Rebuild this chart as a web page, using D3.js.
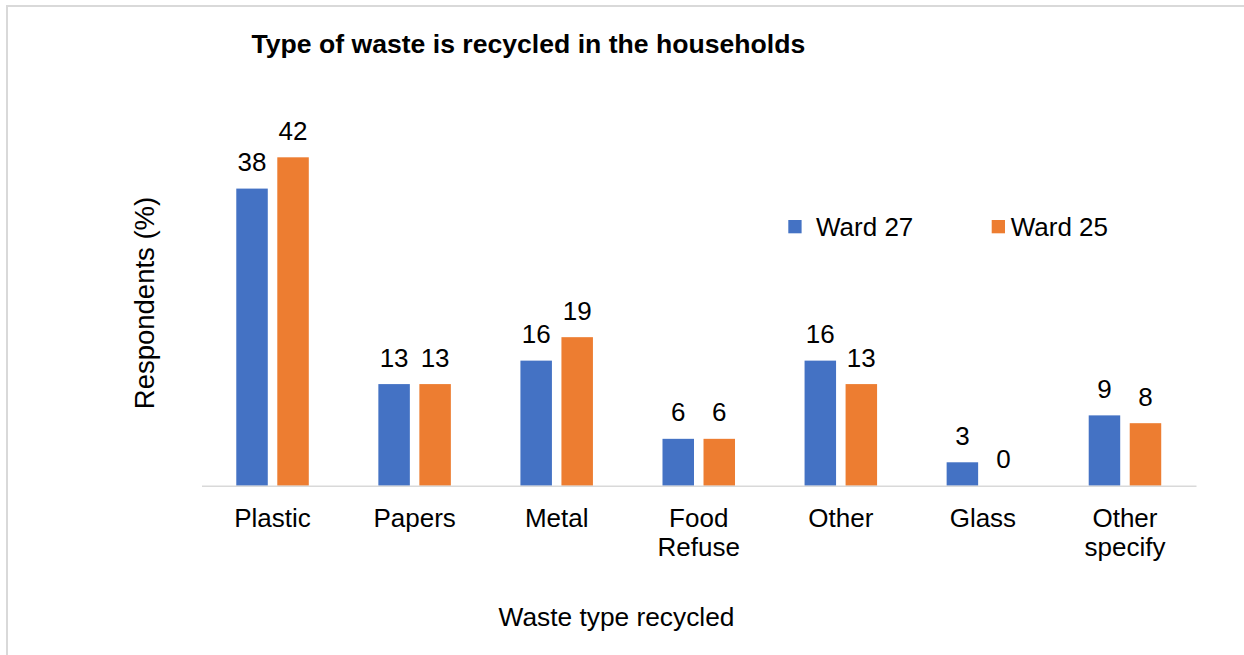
<!DOCTYPE html>
<html>
<head>
<meta charset="utf-8">
<script src="https://cdn.jsdelivr.net/npm/d3@7"></script>
<style>
  html, body { margin: 0; padding: 0; background: #fff; }
  svg { display: block; }
  text { font-family: "Liberation Sans", Arial, sans-serif; fill: #000; }
</style>
</head>
<body>
<svg id="chart" width="1244" height="655"></svg>
<script>
// Chart data
const categories = [["Plastic"], ["Papers"], ["Metal"], ["Food", "Refuse"], ["Other"], ["Glass"], ["Other", "specify"]];
const seriesNames = ["Ward 27", "Ward 25"];
const ward27 = [38, 13, 16, 6, 16, 3, 9];
const ward25 = [42, 13, 19, 6, 13, 0, 8];
const colors = ["#4472C4", "#ED7D31"];
const title = "Type of waste is recycled in the households";
const xTitle = "Waste type recycled";
const yTitle = "Respondents (%)";

const seriesValues = [ward27, ward25];
const keys = categories.map(c => c.join(" "));
const fs = 26;

const svg = d3.select("#chart");

// Outer frame
svg.append("rect")
  .attr("x", 7).attr("y", 6)
  .attr("width", 1400).attr("height", 800)
  .attr("fill", "none").attr("stroke", "#d9d9d9").attr("stroke-width", 2);

const plot = { left: 201.5, right: 1196, bottom: 485.75 };

const x = d3.scaleBand().domain(keys).range([plot.left, plot.right]).padding(0);
const xs = d3.scaleBand().domain(seriesNames).range([0, x.bandwidth()])
  .paddingInner(0.232).paddingOuter(0.848);
const y = d3.scaleLinear().domain([0, 45]).range([plot.bottom, plot.bottom - 45 * 7.82]);

// Bars
const groups = svg.append("g").selectAll("g")
  .data(keys)
  .join("g")
  .attr("transform", d => `translate(${x(d)},0)`);

groups.selectAll("rect")
  .data((d, i) => seriesNames.map((s, j) => ({ s, v: seriesValues[j][i], j })))
  .join("rect")
  .attr("x", d => xs(d.s))
  .attr("y", d => y(d.v))
  .attr("width", xs.bandwidth())
  .attr("height", d => y(0) - y(d.v))
  .attr("fill", d => colors[d.j]);

// Value labels
groups.selectAll("text")
  .data((d, i) => seriesNames.map((s, j) => ({ s, v: seriesValues[j][i] })))
  .join("text")
  .attr("x", d => xs(d.s) + xs.bandwidth() / 2)
  .attr("y", d => y(d.v) - 17.5)
  .attr("text-anchor", "middle")
  .attr("font-size", fs)
  .text(d => d.v);

// Category axis
const xAxis = svg.append("g")
  .attr("transform", `translate(0,${plot.bottom})`)
  .call(d3.axisBottom(x).tickSize(0).tickFormat(""));
xAxis.select(".domain").attr("stroke", "#d9d9d9").attr("stroke-width", 1.6);

const catLabels = svg.append("g").selectAll("text")
  .data(categories)
  .join("text")
  .attr("x", (d, i) => x(keys[i]) + x.bandwidth() / 2)
  .attr("y", 526.5)
  .attr("text-anchor", "middle")
  .attr("font-size", fs);
catLabels.selectAll("tspan")
  .data(d => d)
  .join("tspan")
  .attr("x", function () { return d3.select(this.parentNode).attr("x"); })
  .attr("dy", (d, i) => i === 0 ? 0 : 29.5)
  .text(d => d);

// Title
svg.append("text")
  .attr("x", 251.5).attr("y", 53)
  .attr("font-size", 26.6).attr("font-weight", "bold")
  .text(title);

// Axis titles
svg.append("text")
  .attr("x", 616.5).attr("y", 625.5)
  .attr("text-anchor", "middle")
  .attr("font-size", 26.3)
  .text(xTitle);

svg.append("text")
  .attr("transform", "translate(153.5,303) rotate(-90)")
  .attr("text-anchor", "middle")
  .attr("font-size", 27.5)
  .text(yTitle);

// Legend
const legendPos = [[788.3, 816], [991.7, 1010.7]];
const legend = svg.append("g").selectAll("g")
  .data(seriesNames)
  .join("g");
legend.append("rect")
  .attr("x", (d, i) => legendPos[i][0])
  .attr("y", 220)
  .attr("width", 13.3).attr("height", 13.3)
  .attr("fill", (d, i) => colors[i]);
legend.append("text")
  .attr("x", (d, i) => legendPos[i][1])
  .attr("y", 235.5)
  .attr("font-size", fs)
  .text(d => d);
</script>
</body>
</html>
